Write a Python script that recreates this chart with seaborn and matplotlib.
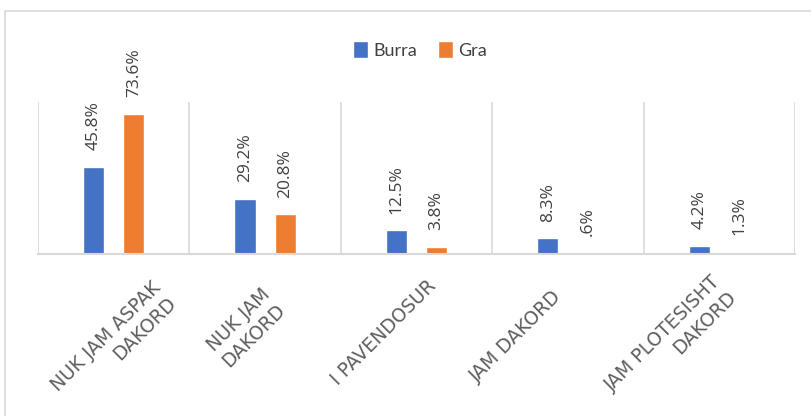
import matplotlib
matplotlib.use('Agg')
import matplotlib.pyplot as plt
import matplotlib.transforms as mtransforms
from matplotlib.patches import Rectangle
import seaborn as sns
import pandas as pd

# ========= data =======================
categories = ['NUK JAM ASPAK\nDAKORD', 'NUK JAM\nDAKORD', 'I PAVENDOSUR',
              'JAM DAKORD', 'JAM PLOTESISHT\nDAKORD']
burra = [45.8, 29.2, 12.5, 8.3, 4.2]
gra = [73.6, 20.8, 3.8, 0.6, 1.3]
burra_labels = ['45.8%', '29.2%', '12.5%', '8.3%', '4.2%']
gra_labels = ['73.6%', '20.8%', '3.8%', '.6%', '1.3%']
series = ['Burra', 'Gra']

# ========= style =======================
colors = {'Burra': '#4472C4', 'Gra': '#ED7D31'}
text_color = '#404040'
# per-label shift of the rotated category labels (px right, px down)
label_shift = [(37, 24), (-5, 31), (10, 22), (-16, 33), (-8, 18)]

df = pd.DataFrame({
    'cat': categories * 2,
    'value': burra + gra,
    'group': ['Burra'] * len(categories) + ['Gra'] * len(categories),
})

# ========= plot =======================
sns.set_style('white')
plt.rcParams['font.family'] = ['Open Sans', 'DejaVu Sans']

fig = plt.figure(figsize=(8.11, 4.16), dpi=100)
ax = fig.add_axes([38 / 811, 162 / 416, 757 / 811, 152 / 416])

sns.barplot(data=df, x='cat', y='value', hue='group', hue_order=series,
            palette=colors, width=0.53, gap=0.47, ax=ax, saturation=1,
            order=categories)

ax.set_ylim(0, 80)
ax.set_xlim(-0.5, len(categories) - 0.5)

# value labels
for cont, labs in zip(ax.containers, [burra_labels, gra_labels]):
    ax.bar_label(cont, labels=labs, rotation=90, padding=12,
                 fontsize=12.5, color=text_color, clip_on=False)

# vertical separators between categories
for i in range(len(categories) + 1):
    ax.axvline(i - 0.5, ymin=0, ymax=1, color='#d9d9d9', lw=1.2, zorder=0)

for s in ['top', 'right', 'left']:
    ax.spines[s].set_visible(False)
ax.spines['bottom'].set_color('#d9d9d9')
ax.spines['bottom'].set_linewidth(1.5)

ax.set_yticks([])
ax.set_xlabel('')
ax.set_ylabel('')
ax.tick_params(axis='x', length=0, pad=0)
ax.set_xticks(range(len(categories)))
ax.set_xticklabels(categories, rotation=45, ha='right', va='top',
                   rotation_mode='anchor', color='#5f5f5f',
                   fontproperties={'family': 'DejaVu Sans', 'size': 13.5},
                   linespacing=1.2)
for lab, (dx, dy) in zip(ax.get_xticklabels(), label_shift):
    off = mtransforms.ScaledTranslation(dx / 100, -dy / 100, fig.dpi_scale_trans)
    lab.set_transform(lab.get_transform() + off)

# legend
handles, labels = ax.get_legend_handles_labels()
ax.legend(handles, labels, ncol=2, loc='center', bbox_to_anchor=(420 / 811, 366 / 416),
          bbox_transform=fig.transFigure, frameon=False,
          handlelength=0.8, handleheight=1.1, handletextpad=0.3,
          columnspacing=1.2, prop={'family': 'Lato', 'size': 13})
for t in ax.get_legend().get_texts():
    t.set_color(text_color)

# outer chart border
fig.patches.append(Rectangle((5 / 811, -0.1), 1.2, 1.1 - 11 / 416,
                             transform=fig.transFigure, fill=False,
                             ec='#d9d9d9', lw=1.2))

fig.savefig('out.png', dpi=100)
plt.close()
